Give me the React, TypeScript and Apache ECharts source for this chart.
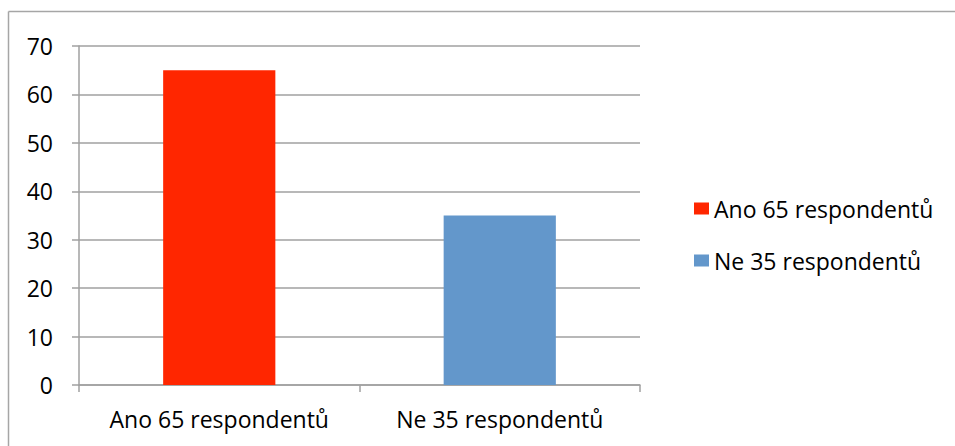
import React, { useEffect, useRef } from "react";
import * as echarts from "echarts";

const categories = ["Ano 65 respondentů", "Ne 35 respondentů"];
const seriesNames = ["Ano 65 respondentů", "Ne 35 respondentů"];
const anoValues = [65, null];
const neValues = [null, 35];
const colors = ["#FF2600", "#6397CB"];

export default function App() {
  const ref = useRef<HTMLDivElement>(null);
  useEffect(() => {
    if (!ref.current) return;
    const chart = echarts.init(ref.current, null, { renderer: "svg" });
    const font = "'Open Sans', sans-serif";
    chart.setOption({
      animation: false,
      backgroundColor: "#ffffff",
      textStyle: { fontFamily: font },
      graphic: [
        { type: "line", shape: { x1: 8.5, y1: 11.5, x2: 955, y2: 11.5 }, style: { stroke: "#A6A6A6", lineWidth: 1.5 } },
        { type: "line", shape: { x1: 8.5, y1: 11.5, x2: 8.5, y2: 446 }, style: { stroke: "#A6A6A6", lineWidth: 1.5 } },
      ],
      grid: { left: 79, top: 46, width: 561, height: 339, containLabel: false },
      legend: {
        orient: "vertical",
        left: 689,
        top: 192,
        itemWidth: 15,
        itemHeight: 12,
        itemGap: 29,
        itemStyle: { borderWidth: 0 },
        icon: "rect",
        textStyle: { fontSize: 23, fontFamily: font, color: "#000", lineHeight: 23 },
        data: seriesNames,
      },
      xAxis: {
        type: "category",
        data: categories,
        axisLine: { lineStyle: { color: "#A0A0A0", width: 1.5 } },
        axisTick: { show: true, length: 7, alignWithLabel: false, lineStyle: { color: "#A0A0A0", width: 1.5 } },
        axisLabel: { color: "#000", fontSize: 23, fontFamily: font, margin: 22, interval: 0, hideOverlap: false },
      },
      yAxis: {
        type: "value",
        min: 0,
        max: 70,
        interval: 10,
        axisLine: { show: true, lineStyle: { color: "#A0A0A0", width: 1.5 } },
        axisTick: { show: true, length: 7, lineStyle: { color: "#A0A0A0", width: 1.5 } },
        splitLine: { lineStyle: { color: "#A0A0A0", width: 1.5 } },
        axisLabel: { color: "#000", fontSize: 23, fontFamily: font, margin: 26 },
      },
      series: [
        { name: seriesNames[0], type: "bar", stack: "s", barWidth: "40%", data: anoValues, itemStyle: { color: colors[0] } },
        { name: seriesNames[1], type: "bar", stack: "s", barWidth: "40%", data: neValues, itemStyle: { color: colors[1] } },
      ],
    });
    return () => chart.dispose();
  }, []);
  return (
    <div style={{ position: "absolute", left: 0, top: 0 }}>
      <div ref={ref} style={{ width: 955, height: 446 }} />
    </div>
  );
}
